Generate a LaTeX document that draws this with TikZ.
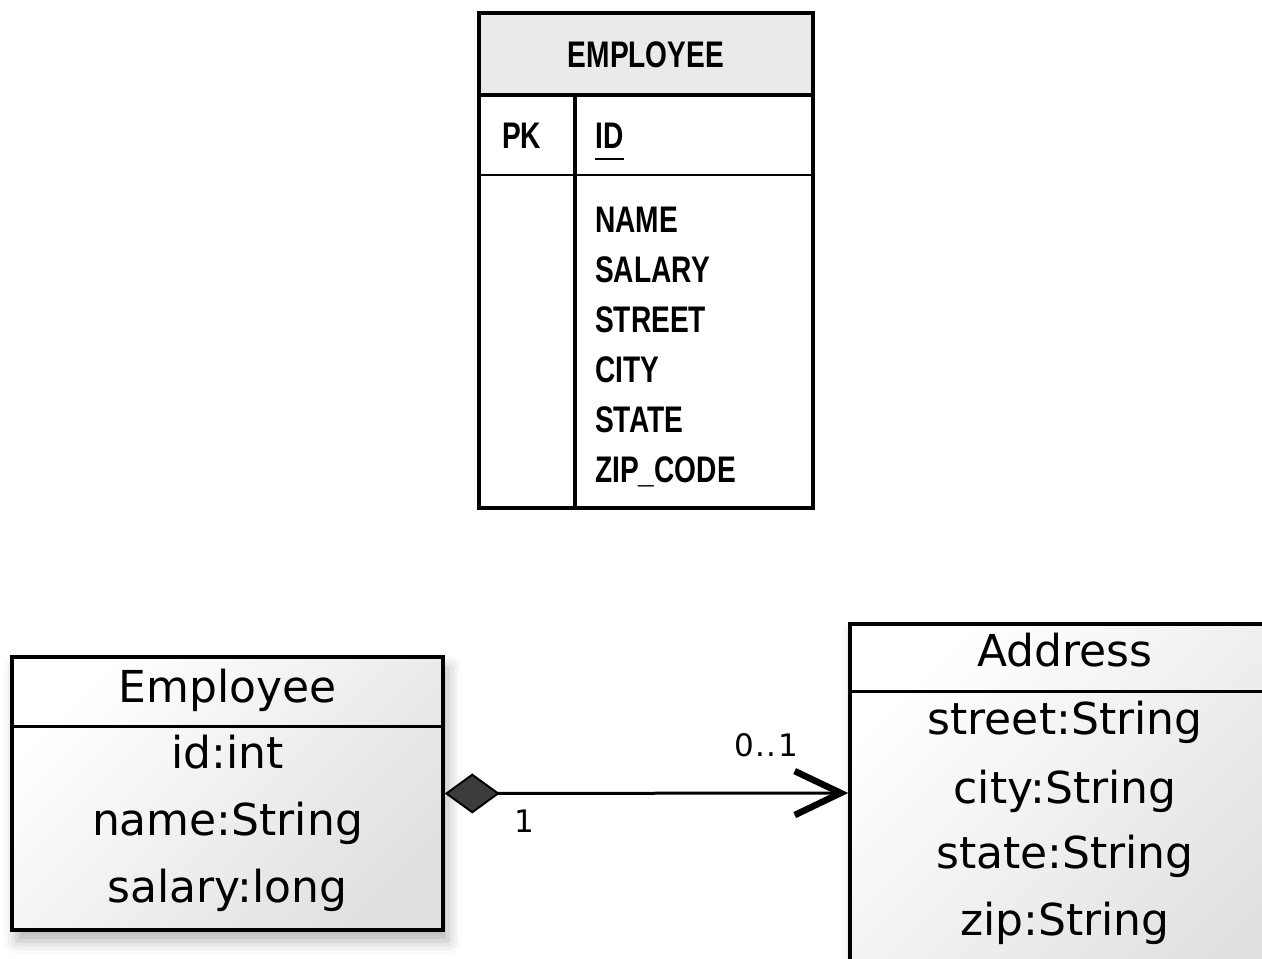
\documentclass[tikz,border=0pt]{standalone}
\usepackage{fontspec}
\newfontfamily\umlfont{DejaVu Sans}
\newfontfamily\multfont[LetterSpace=5]{DejaVu Sans}
\newfontfamily\tblfont[FakeStretch=0.76]{Liberation Sans}
\usetikzlibrary{arrows.meta,shadows.blur}

\definecolor{hdrgray}{HTML}{EAEAEA}
\definecolor{diamondgray}{HTML}{3C3C3C}

\tikzset{
  tblline/.style={line width=#1, draw=black},
  tbltext/.style={inner sep=0pt, anchor=base west, font=\tblfont\bfseries\fontsize{37}{40}\selectfont},
  umlbox/.style={draw=black, line width=3.5pt, rectangle, inner sep=0pt,
    top color=white, bottom color=black!12, shading angle=45,
    blur shadow={shadow xshift=5pt, shadow yshift=-11pt, shadow blur radius=13pt, shadow opacity=30}},
  umltext/.style={inner sep=0pt, anchor=base, font=\umlfont\fontsize{44}{50}\selectfont},
  multtext/.style={inner sep=0pt, anchor=base west, font=\multfont\fontsize{31}{34}\selectfont},
  composition/.style={line width=3pt,
    {Diamond[length=55pt,width=40pt,line width=2pt,fill=diamondgray]}-{Straight Barb[length=46pt,width=44pt,line width=6.5pt]}},
}

\begin{document}
\begin{tikzpicture}[x=1pt,y=-1pt]
\useasboundingbox (0,0) rectangle (1262,959);
\clip (0,0) rectangle (1262,959);

% ---- relational table EMPLOYEE ----
\coordinate (t-nw) at (479,13);
\coordinate (t-se) at (813,508);
\fill[hdrgray] (t-nw) rectangle (813,95);
\fill[white] (479,95) rectangle (t-se);
\draw[tblline=4pt] (479,95) -- (813,95);
\draw[tblline=2.5pt] (479,175) -- (813,175);
\draw[tblline=3.5pt] (575,95) -- (575,508);
\draw[tblline=4.5pt] (t-nw) rectangle (t-se);

\node[tbltext, anchor=base] (t-title) at (646,67) {EMPLOYEE};
\node[tbltext] (t-pk) at (502,148) {PK};
\node[tbltext] (t-id) at (595,148) {ID};
\draw[line width=2pt] ([yshift=-11pt]t-id.base west) -- ([yshift=-11pt]t-id.base east);
\node[tbltext] (t-name)   at (595,232) {NAME};
\node[tbltext] (t-salary) at (595,282) {SALARY};
\node[tbltext] (t-street) at (595,332) {STREET};
\node[tbltext] (t-city)   at (595,382) {CITY};
\node[tbltext] (t-state)  at (595,432) {STATE};
\node[tbltext] (t-zip)    at (595,482) {ZIP\_CODE};

% ---- UML classes ----
\node[umlbox, minimum width=431pt, minimum height=273pt] (emp) at (227.5,793.5) {};
\draw[line width=3pt] (emp.west |- 0,726) -- (emp.east |- 0,726);
\node[umltext] (emp-name) at (227.5,702) {Employee};
\node[umltext] (emp-id)   at (227.5,768) {id:int};
\node[umltext] (emp-nm)   at (227.5,835) {name:String};
\node[umltext] (emp-sal)  at (227.5,902) {salary:long};

\node[umlbox, minimum width=470pt, minimum height=338pt] (addr) at (1085,793) {};
\draw[line width=3pt] (addr.west |- 0,691) -- (addr.east |- 0,691);
\node[umltext] (addr-name)   at (1065,666) {Address};
\node[umltext] (addr-street) at (1065,734) {street:String};
\node[umltext] (addr-city)   at (1065,803) {city:String};
\node[umltext] (addr-state)  at (1065,868) {state:String};
\node[umltext] (addr-zip)    at (1065,935) {zip:String};

% ---- composition association ----
\draw[composition] (emp.east) -- (addr.west);
\node[multtext] (m-one) at (514,832) {1};
\node[multtext] (m-opt) at (734,756) {0..1};

\end{tikzpicture}
\end{document}
